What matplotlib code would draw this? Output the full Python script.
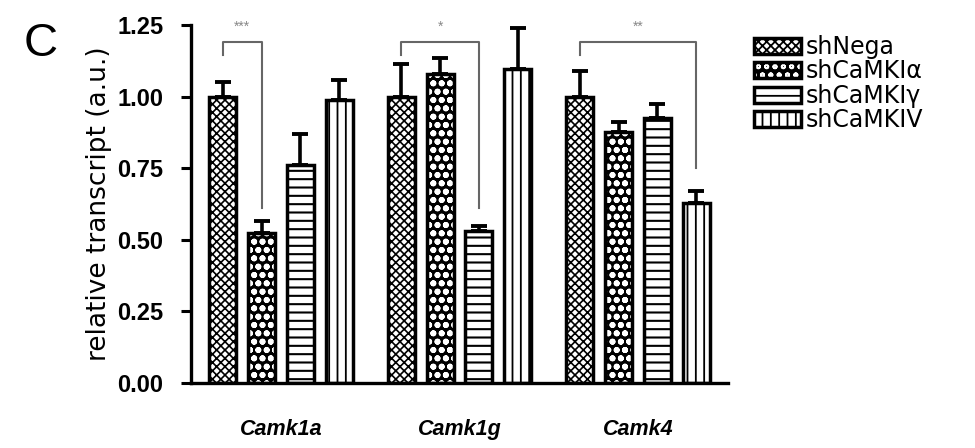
import matplotlib
matplotlib.use("Agg")
import matplotlib.pyplot as plt
import numpy as np
from matplotlib.patches import Patch
from matplotlib.legend_handler import HandlerTuple

plt.rcParams['font.family'] = ['Liberation Sans', 'DejaVu Sans']
plt.rcParams['hatch.linewidth'] = 1.3

genes = ["Camk1a", "Camk1g", "Camk4"]
series = ["shNega", "shCaMKI\u03b1", "shCaMKI\u03b3", "shCaMKIV"]

sh_nega = [1.00, 1.00, 1.00]
sh_camk1a = [0.525, 1.08, 0.877]
sh_camk1g = [0.76, 0.53, 0.924]
sh_camk4 = [0.988, 1.095, 0.63]

err_nega = [0.052, 0.113, 0.089]
err_camk1a = [0.042, 0.056, 0.035]
err_camk1g = [0.109, 0.018, 0.049]
err_camk4 = [0.070, 0.145, 0.041]

# significance: (group, compared series index, label, lower end of right leg)
sig_pairs = [(0, 1, "***", 0.61), (1, 2, "*", 0.61), (2, 3, "**", 0.75)]
sig_top = 1.19
sig_left_low = 1.145

means = [sh_nega, sh_camk1a, sh_camk1g, sh_camk4]
errs = [err_nega, err_camk1a, err_camk1g, err_camk4]

# bar styling per series: facecolor, hatch, hatch colour, hatch linewidth
styles = [
    dict(face="white", hatch="xxxx", hcolor="black", hlw=1.2),
    dict(face="black", hatch="oo", hcolor="white", hlw=1.9),
    dict(face="white", hatch="--", hcolor="black", hlw=1.5),
    dict(face="white", hatch="||", hcolor="black", hlw=1.3),
]

fig = plt.figure(figsize=(9.75, 4.48), dpi=100)
ax = fig.add_axes([191 / 975, 65 / 448, 537 / 975, 358 / 448])

x = np.arange(len(genes))
step = 0.2174
width = 0.151
offsets = (np.arange(4) - 1.5) * step

edge_lw = 2.5


def set_hlw(patch, lw):
    if hasattr(patch, "set_hatch_linewidth"):
        patch.set_hatch_linewidth(lw)


def hatched_bars(xpos, vals, st):
    ax.bar(xpos, vals, width, facecolor=st["face"], edgecolor="none",
           linewidth=0, zorder=2)
    b = ax.bar(xpos, vals, width, facecolor="none", edgecolor=st["hcolor"],
               hatch=st["hatch"], linewidth=0, zorder=2.5)
    for p in b:
        set_hlw(p, st["hlw"])
    ax.bar(xpos, vals, width, facecolor="none", edgecolor="black",
           linewidth=edge_lw, zorder=3)


for i in range(4):
    xpos = x + offsets[i]
    hatched_bars(xpos, means[i], styles[i])
    ax.errorbar(xpos, means[i], yerr=[np.zeros(3), errs[i]], fmt="none",
                ecolor="black", elinewidth=2.6, capsize=5.8, capthick=2.8, zorder=1)

# significance brackets
for g, j, label, low in sig_pairs:
    x0 = x[g] + offsets[0]
    x1 = x[g] + offsets[j]
    ax.plot([x0, x0, x1, x1], [sig_left_low, sig_top, sig_top, low],
            color="#666666", lw=1.5, zorder=4, clip_on=False)
    ax.text((x0 + x1) / 2, 1.245, label, ha="center", va="center",
            fontsize=10, color="#888888", clip_on=False)

ax.set_xlim(-0.505, 2.505)
ax.set_ylim(0, 1.25)
ax.set_yticks([0, 0.25, 0.5, 0.75, 1.0, 1.25])
ax.set_yticklabels(["0.00", "0.25", "0.50", "0.75", "1.00", "1.25"],
                   fontsize=17, fontweight="bold")
ax.set_xticks(x)
ax.set_xticklabels(genes, fontsize=15.5, fontweight="bold", fontstyle="italic")
ax.tick_params(axis="x", length=0, pad=26)
ax.tick_params(axis="y", length=7, width=2.2, direction="out", pad=13)
for s in ["top", "right"]:
    ax.spines[s].set_visible(False)
for s in ["left", "bottom"]:
    ax.spines[s].set_linewidth(2.4)

ax.set_ylabel("relative transcript (a.u.)", fontsize=19, labelpad=4,
              family=["DejaVu Sans"])

fig.text(41 / 975, 1 - 44 / 448, "C", fontsize=34, ha="center", va="center")

# legend with layered proxies so hatch colour and outline can differ
handles = []
for st in styles:
    h0 = Patch(facecolor=st["face"], edgecolor="none", linewidth=0)
    h1 = Patch(facecolor="none", edgecolor=st["hcolor"], hatch=st["hatch"], linewidth=0)
    set_hlw(h1, st["hlw"])
    h2 = Patch(facecolor="none", edgecolor="black", linewidth=edge_lw)
    handles.append((h0, h1, h2))

fig.legend(handles, series, loc="upper left", bbox_to_anchor=(754 / 975, 1 - 35 / 448),
           frameon=False, prop={"family": "DejaVu Sans", "size": 17},
           handlelength=2.0, handleheight=0.66,
           handletextpad=0.2, labelspacing=0.02, borderpad=0, borderaxespad=0,
           handler_map={tuple: HandlerTuple(ndivide=1, pad=0)})

fig.savefig("out.png", dpi=100)
